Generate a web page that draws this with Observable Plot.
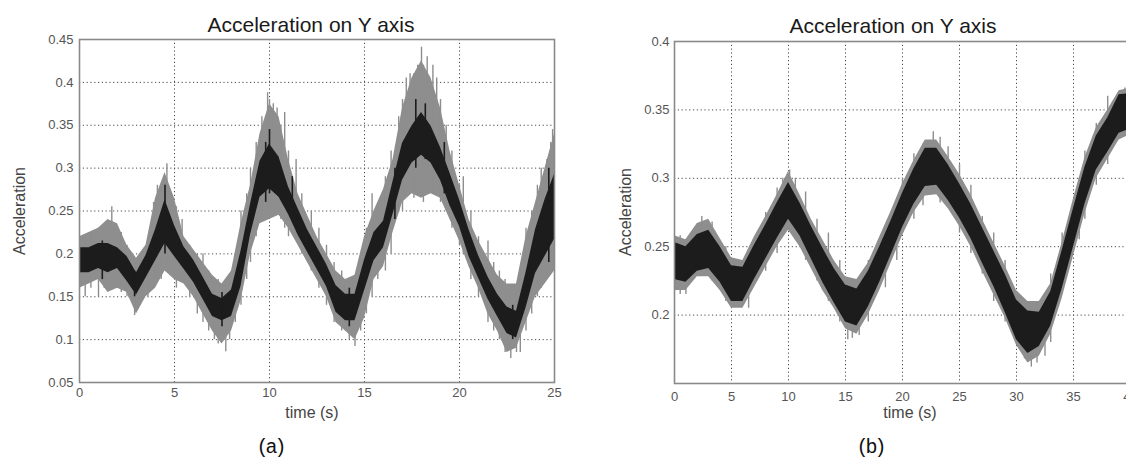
<!DOCTYPE html>
<html><head><meta charset="utf-8">
<script src="https://cdn.jsdelivr.net/npm/d3@7"></script>
<script src="https://cdn.jsdelivr.net/npm/@observablehq/plot@0.6"></script>
<style>
html,body{margin:0;padding:0;background:#fff;overflow:hidden;}
#wrap{position:relative;width:1126px;height:459px;overflow:hidden;background:#fff;}
.p{position:absolute;top:0;}
.t{position:absolute;transform:translate(-50%,-50%);white-space:nowrap;font-family:"Liberation Sans",Arial,sans-serif;}
.title{font-size:21px;color:#1a1a1a;}
.lab{font-size:16px;color:#444;}
.rot{transform:translate(-50%,-50%) rotate(-90deg);}
.cap{font-family:"Liberation Mono","DejaVu Sans Mono",monospace;font-size:20px;color:#111;letter-spacing:-3px;}
</style></head>
<body><div id="wrap"></div>
<script>
// ---------- Panel (a) ----------
const tA = [0,0.5,1,1.5,2,2.5,3,3.5,4,4.5,5,5.5,6,6.5,7,7.5,8,8.5,9,9.5,10,10.5,11,11.5,12,12.5,13,13.5,14,14.5,15,15.5,16,16.5,17,17.5,18,18.5,19,19.5,20,20.5,21,21.5,22,22.5,23,23.5,24,24.5,25];
const outerLoA = [0.16,0.165,0.17,0.155,0.16,0.155,0.13,0.15,0.16,0.18,0.17,0.165,0.15,0.13,0.11,0.095,0.11,0.145,0.2,0.235,0.24,0.245,0.23,0.21,0.19,0.17,0.15,0.12,0.11,0.1,0.125,0.17,0.185,0.225,0.26,0.27,0.265,0.27,0.265,0.24,0.215,0.185,0.16,0.13,0.11,0.085,0.09,0.12,0.15,0.165,0.18];
const coreLoA  = [0.178,0.178,0.183,0.178,0.183,0.168,0.152,0.172,0.192,0.212,0.197,0.182,0.167,0.147,0.127,0.122,0.127,0.162,0.222,0.266,0.276,0.266,0.246,0.222,0.202,0.182,0.162,0.132,0.122,0.122,0.157,0.192,0.207,0.246,0.286,0.306,0.315,0.306,0.286,0.256,0.232,0.197,0.172,0.147,0.127,0.107,0.102,0.137,0.177,0.197,0.217];
const coreHiA  = [0.207,0.207,0.212,0.212,0.207,0.197,0.178,0.198,0.228,0.263,0.233,0.208,0.193,0.173,0.153,0.148,0.158,0.203,0.258,0.308,0.328,0.313,0.278,0.253,0.228,0.208,0.188,0.163,0.153,0.153,0.193,0.225,0.238,0.284,0.329,0.349,0.365,0.349,0.324,0.294,0.263,0.228,0.198,0.173,0.153,0.138,0.133,0.178,0.228,0.263,0.293];
const outerHiA = [0.22,0.225,0.23,0.24,0.235,0.21,0.195,0.21,0.265,0.295,0.265,0.22,0.205,0.19,0.175,0.165,0.18,0.235,0.28,0.34,0.375,0.36,0.31,0.27,0.245,0.22,0.2,0.18,0.17,0.175,0.22,0.25,0.275,0.31,0.37,0.405,0.425,0.405,0.37,0.32,0.28,0.24,0.215,0.195,0.175,0.165,0.165,0.22,0.26,0.3,0.34];
const spikeTA  = [0.1,0.3,0.6,1.0,1.3,1.7,2.2,2.5,2.9,3.2,3.6,3.9,4.1,4.3,4.6,4.8,5.1,5.4,5.8,6.2,6.5,6.8,7.1,7.3,7.7,7.9,8.2,8.5,8.8,9.0,9.3,9.6,9.9,10.0,10.2,10.4,10.6,10.8,11.0,11.4,11.7,12.2,12.6,13.0,13.4,13.8,14.0,14.2,14.5,14.8,15.1,15.4,15.7,16.1,16.4,16.8,17.0,17.2,17.4,17.6,17.8,18.0,18.1,18.3,18.6,18.8,19.0,19.3,19.6,20.0,20.2,20.6,21.0,21.5,21.8,22.1,22.4,22.7,23.0,23.2,23.5,23.8,24.1,24.3,24.6,24.8,24.9];
const spikeLoA = [0.165,0.15,0.16,0.15,0.16,0.17,0.155,0.15,0.128,0.14,0.15,0.16,0.17,0.17,0.19,0.18,0.16,0.17,0.15,0.13,0.12,0.11,0.1,0.095,0.086,0.1,0.12,0.14,0.17,0.19,0.22,0.24,0.25,0.25,0.26,0.25,0.24,0.23,0.22,0.22,0.2,0.18,0.16,0.14,0.12,0.11,0.11,0.1,0.092,0.11,0.13,0.15,0.17,0.18,0.2,0.25,0.25,0.27,0.27,0.265,0.27,0.27,0.26,0.28,0.27,0.27,0.26,0.25,0.23,0.21,0.2,0.17,0.15,0.12,0.11,0.1,0.085,0.078,0.085,0.085,0.11,0.13,0.15,0.16,0.17,0.18,0.19];
const spikeHiA = [0.22,0.215,0.225,0.23,0.235,0.255,0.225,0.21,0.19,0.2,0.215,0.26,0.28,0.28,0.305,0.27,0.255,0.24,0.21,0.2,0.2,0.18,0.17,0.17,0.15,0.16,0.2,0.25,0.27,0.3,0.33,0.36,0.388,0.38,0.375,0.37,0.35,0.365,0.32,0.31,0.27,0.25,0.23,0.21,0.19,0.18,0.17,0.17,0.16,0.2,0.23,0.27,0.26,0.29,0.32,0.36,0.38,0.405,0.41,0.41,0.42,0.441,0.42,0.43,0.42,0.405,0.38,0.35,0.32,0.28,0.29,0.25,0.22,0.215,0.19,0.18,0.17,0.14,0.16,0.17,0.23,0.25,0.28,0.3,0.31,0.33,0.345];
const blkTA  = [1.2,2.9,4.5,7.5,9.8,10.0,11.2,14.2,16.6,17.7,18.2,19.2,22.8,24.7];
const blkLoA = [0.17,0.15,0.2,0.115,0.26,0.27,0.24,0.115,0.24,0.3,0.31,0.27,0.1,0.19];
const blkHiA = [0.215,0.18,0.28,0.155,0.33,0.345,0.29,0.16,0.3,0.38,0.375,0.33,0.14,0.3];
const xTicksA = [0,5,10,15,20,25];
const yTicksA = [0.05,0.1,0.15,0.2,0.25,0.3,0.35,0.4,0.45];

// ---------- Panel (b) ----------
const tB = [0,1,2,3,4,5,6,7,8,9,10,11,12,13,14,15,16,17,18,19,20,21,22,23,24,25,26,27,28,29,30,31,32,33,34,35,36,37,38,39,40];
const outerLoB = [0.218,0.218,0.228,0.228,0.218,0.205,0.205,0.22,0.235,0.25,0.262,0.25,0.234,0.218,0.205,0.19,0.186,0.2,0.218,0.238,0.258,0.275,0.287,0.288,0.278,0.265,0.25,0.232,0.215,0.198,0.178,0.165,0.17,0.186,0.212,0.243,0.274,0.3,0.314,0.328,0.332];
const coreLoB  = [0.226,0.224,0.232,0.234,0.224,0.21,0.21,0.226,0.241,0.256,0.27,0.258,0.241,0.224,0.209,0.195,0.192,0.206,0.224,0.244,0.264,0.281,0.294,0.295,0.284,0.271,0.256,0.238,0.221,0.202,0.182,0.172,0.177,0.192,0.219,0.25,0.281,0.306,0.319,0.333,0.336];
const coreHiB  = [0.253,0.25,0.259,0.262,0.25,0.236,0.235,0.251,0.266,0.282,0.297,0.282,0.265,0.249,0.234,0.222,0.219,0.232,0.25,0.269,0.289,0.307,0.322,0.322,0.31,0.296,0.281,0.264,0.247,0.23,0.211,0.203,0.202,0.217,0.247,0.278,0.308,0.331,0.344,0.361,0.362];
const outerHiB = [0.258,0.255,0.267,0.27,0.256,0.242,0.24,0.257,0.272,0.288,0.305,0.288,0.27,0.255,0.24,0.228,0.226,0.238,0.257,0.276,0.296,0.313,0.328,0.328,0.316,0.303,0.288,0.27,0.253,0.236,0.218,0.21,0.21,0.223,0.253,0.285,0.315,0.337,0.35,0.364,0.366];
const spikeTB  = [0.5,1,2.4,3.3,4.5,5.6,6.5,8,9,9.5,10.1,10.6,11.5,12.5,13.5,14.5,15.2,15.6,16.2,17,18.5,19.5,20,21,21.8,22.7,23.3,24,25,26,27,28,29,30.7,31.3,31.8,32.5,33,34,35.5,36,37,38,39.5,39.8];
const spikeLoB = [0.215,0.215,0.235,0.225,0.21,0.207,0.205,0.232,0.245,0.26,0.27,0.255,0.24,0.225,0.21,0.195,0.182,0.183,0.185,0.195,0.22,0.24,0.26,0.27,0.28,0.29,0.282,0.28,0.26,0.245,0.23,0.21,0.195,0.168,0.162,0.165,0.17,0.18,0.215,0.255,0.27,0.295,0.31,0.335,0.33];
const spikeHiB = [0.258,0.255,0.272,0.268,0.25,0.235,0.245,0.275,0.293,0.3,0.306,0.3,0.29,0.27,0.26,0.24,0.225,0.215,0.222,0.24,0.265,0.285,0.3,0.318,0.325,0.334,0.33,0.323,0.31,0.295,0.272,0.26,0.24,0.205,0.2,0.21,0.215,0.23,0.26,0.3,0.32,0.34,0.36,0.366,0.368];
const xTicksB = [0,5,10,15,20,25,30,35,40];
const yTicksB = [0.2,0.25,0.3,0.35,0.4];

const rowsA = tA.map((t,i)=>({t, oLo:outerLoA[i], cLo:coreLoA[i], cHi:coreHiA[i], oHi:outerHiA[i]}));
const spA = spikeTA.map((t,i)=>({t, lo:spikeLoA[i], hi:spikeHiA[i]}));
const bkA = blkTA.map((t,i)=>({t, lo:blkLoA[i], hi:blkHiA[i]}));
const rowsB = tB.map((t,i)=>({t, oLo:outerLoB[i], cLo:coreLoB[i], cHi:coreHiB[i], oHi:outerHiB[i]}));
const spB = spikeTB.map((t,i)=>({t, lo:spikeLoB[i], hi:spikeHiB[i]}));

const GRID = "#4a4a4a", OUT = "#8e8e8e", CORE = "#1c1c1c";

function panel(o){
  return Plot.plot({
    width:o.width, height:459,
    marginLeft:o.ml, marginRight:o.mr, marginTop:o.mt, marginBottom:o.mb,
    style:{fontFamily:"'Liberation Sans',Arial,sans-serif", fontSize:"13px", color:"#555", background:"transparent", overflow:"visible"},
    x:{domain:o.xd, ticks:o.xt, tickSize:0, tickPadding:o.xpad, label:null, tickFormat:d=>String(d)},
    y:{domain:o.yd, ticks:o.yt, tickSize:0, tickPadding:o.ypad, label:null, tickFormat:d=>String(d)},
    marks:[
      Plot.ruleX(o.xt.slice(1), {stroke:GRID, strokeDasharray:"1.2,2.6", strokeWidth:1}),
      Plot.ruleY(o.yt.filter(v=>v>o.yd[0] && v<o.yd[1]), {stroke:GRID, strokeDasharray:"1.2,2.6", strokeWidth:1}),
      Plot.areaY(o.rows, {x:"t", y1:"oLo", y2:"oHi", fill:OUT, clip:true}),
      Plot.ruleX(o.sp, {x:"t", y1:"lo", y2:"hi", stroke:OUT, strokeWidth:1.4, clip:true}),
      Plot.areaY(o.rows, {x:"t", y1:"cLo", y2:"cHi", fill:CORE, clip:true}),
      Plot.ruleX(o.bk, {x:"t", y1:"lo", y2:"hi", stroke:CORE, strokeWidth:1.6, clip:true}),
      Plot.frame({stroke:"#8a8a8a", strokeWidth:1.6})
    ]
  });
}

const wrap = document.getElementById("wrap");
const a = panel({width:560, ml:79, mr:6, mt:39, mb:77, xd:[0,25], yd:[0.05,0.45], xt:xTicksA, yt:yTicksA, xpad:5, ypad:6, rows:rowsA, sp:spA, bk:bkA});
a.classList.add("p"); a.style.left="0px";
wrap.appendChild(a);
const b = panel({width:564, ml:108, mr:0, mt:41, mb:76, xd:[0,40], yd:[0.15,0.4], xt:xTicksB, yt:yTicksB, xpad:8, ypad:5, rows:rowsB, sp:spB, bk:[]});
b.classList.add("p"); b.style.left="566px";
wrap.appendChild(b);

const texts = [
  ["Acceleration on Y axis","t title",311,25],
  ["Acceleration on Y axis","t title",893,26],
  ["Acceleration","t lab rot",20,211],
  ["Acceleration","t lab rot",626,212],
  ["time (s)","t lab",312,413],
  ["time (s)","t lab",910,413],
  ["(a)","t cap",270,447],
  ["(b)","t cap",870,447]
];
for(const [s,c,x,y] of texts){
  const d=document.createElement("div"); d.className=c; d.textContent=s;
  d.style.left=x+"px"; d.style.top=y+"px"; wrap.appendChild(d);
}
</script></body></html>
